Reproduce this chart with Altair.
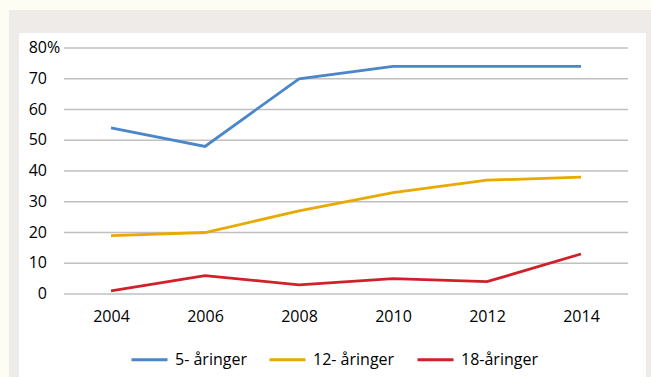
import altair as alt
import pandas as pd

years = ["2004", "2006", "2008", "2010", "2012", "2014"]
series_names = ["5- åringer", "12- åringer", "18-åringer"]
s5 = [54, 48, 70, 74, 74, 74]
s12 = [19, 20, 27, 33, 37, 38]
s18 = [1, 6, 3, 5, 4, 13]
y_ticks = [0, 10, 20, 30, 40, 50, 60, 70, 80]
colors = ["#4a86c8", "#e8a900", "#d0202a"]

rows = []
for name, vals in zip(series_names, [s5, s12, s18]):
    for yr, v in zip(years, vals):
        rows.append({"year": yr, "value": v, "series": name})
df = pd.DataFrame(rows)

W, H = 564, 246
PL, PT = 64, 48
PR = 651 - PL - W
PB = 377 - PT - H

FONT = "Open Sans"

yscale = alt.Scale(domain=[0, 80], nice=False)
xscale = alt.Scale(domain=years, paddingInner=0, paddingOuter=0.5)

one = pd.DataFrame({"k": [0]})

grey_frame = alt.Chart(one).mark_rect(color="#efebe8").encode(
    x=alt.value(9 - PL), x2=alt.value(651 - PL),
    y=alt.value(10 - PT), y2=alt.value(377 - PT),
)
white_panel = alt.Chart(one).mark_rect(color="#ffffff").encode(
    x=alt.value(19 - PL), x2=alt.value(646 - PL),
    y=alt.value(33 - PT), y2=alt.value(377 - PT),
)

grid = alt.Chart(pd.DataFrame({"t": y_ticks})).mark_rule(
    color="#c0c0c0", strokeWidth=1.6
).encode(y=alt.Y("t:Q", scale=yscale, axis=None))

ylabels = alt.Chart(pd.DataFrame({"t": y_ticks})).mark_text(
    align="right", baseline="middle", font=FONT, fontSize=16, color="#000000"
).encode(
    y=alt.Y("t:Q", scale=yscale, axis=None),
    x=alt.value(47 - PL),
    text=alt.Text("t:Q"),
)
pct = alt.Chart(pd.DataFrame({"t": [80], "s": ["%"]})).mark_text(
    align="left", baseline="middle", font=FONT, fontSize=16, color="#000000"
).encode(
    y=alt.Y("t:Q", scale=yscale, axis=None),
    x=alt.value(47 - PL),
    text="s:N",
)

lines = alt.Chart(df).mark_line(strokeWidth=2.8).encode(
    x=alt.X("year:O", scale=xscale,
            axis=alt.Axis(title=None, domain=False, ticks=False, grid=False,
                          labelAngle=0, labelFont=FONT, labelFontSize=16,
                          labelColor="#000000", labelPadding=14, zindex=1)),
    y=alt.Y("value:Q", scale=yscale, axis=None),
    color=alt.Color("series:N",
                    scale=alt.Scale(domain=series_names, range=colors),
                    sort=series_names,
                    legend=alt.Legend(title=None, orient="none", direction="horizontal",
                                      legendX=130 - PL, legendY=340 - PT,
                                      symbolType="stroke", symbolSize=1296,
                                      symbolStrokeWidth=3, labelFont=FONT,
                                      labelFontSize=16, labelColor="#000000",
                                      labelOffset=6, columnPadding=16, zindex=1)),
)

chart = alt.layer(grey_frame, white_panel, grid, ylabels, pct, lines).properties(
    width=W, height=H,
    padding={"left": PL, "top": PT, "right": PR, "bottom": PB},
    autosize=alt.AutoSizeParams(type="none"),
    background="#fdfdf3",
).configure_view(stroke=None)

chart.save("out.html", embed_options={"renderer": "svg", "actions": False})
